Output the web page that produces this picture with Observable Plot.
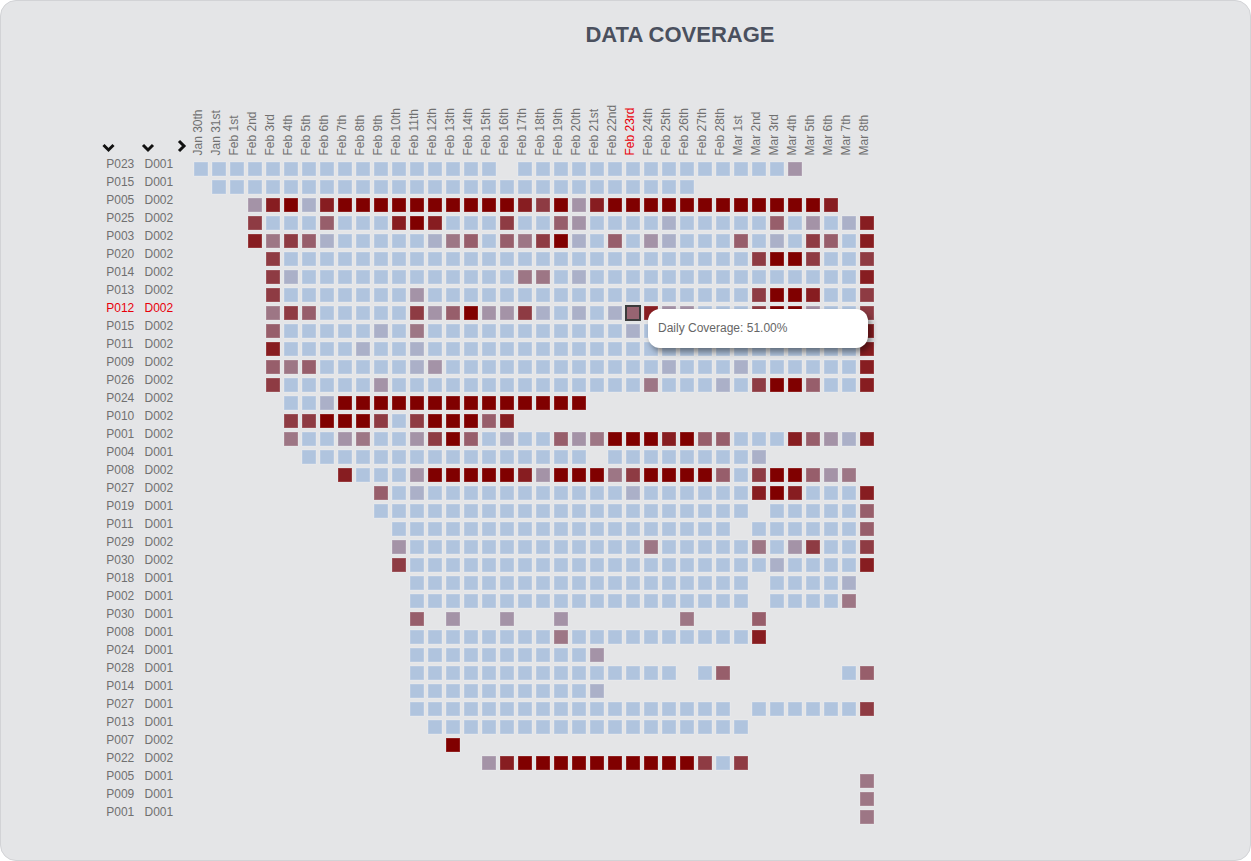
<!DOCTYPE html>
<html>
<head>
<meta charset="utf-8">
<script src="https://cdn.jsdelivr.net/npm/d3@7"></script>
<script src="https://cdn.jsdelivr.net/npm/@observablehq/plot@0.6"></script>
<style>
html, body { margin: 0; padding: 0; background: #ffffff; }
body { width: 1251px; height: 861px; overflow: hidden; position: relative; font-family: "Liberation Sans", Arial, sans-serif; }
#panel { position: absolute; left: 0; top: 0; width: 1249px; height: 859px; background: #e4e5e7; border: 1px solid #d2d3d6; border-radius: 16px; }
#title { position: absolute; left: 480px; width: 400px; top: 24px; text-align: center; font-size: 22px; line-height: 22px; font-weight: bold; color: #4a505e; letter-spacing: 0; }
#chart { position: absolute; left: 0; top: 0; }
#icons { position: absolute; left: 0; top: 0; }
#tooltip { position: absolute; width: 220px; height: 39px; background: #ffffff; border-radius: 12px; box-shadow: 3px 4px 6px rgba(0,0,0,0.45); font-size: 12px; line-height: 39px; color: #666666; padding-left: 10px; box-sizing: border-box; }
</style>
</head>
<body>
<div id="panel"></div>
<div id="title">DATA COVERAGE</div>
<div id="chart"></div>
<svg id="icons" width="1251" height="861">
  <g fill="none" stroke="#111" stroke-width="3" stroke-linecap="butt" stroke-linejoin="miter">
    <polyline points="103.5,145 108.5,150 113.5,145"></polyline>
    <polyline points="143,145 148,150 153,145"></polyline>
    <polyline points="179,141 184,146 179,151"></polyline>
  </g>
</svg>
<div id="tooltip"></div>
<script>
// ---- data ----
const dates = ["Jan 30th","Jan 31st","Feb 1st","Feb 2nd","Feb 3rd","Feb 4th","Feb 5th","Feb 6th","Feb 7th","Feb 8th","Feb 9th","Feb 10th","Feb 11th","Feb 12th","Feb 13th","Feb 14th","Feb 15th","Feb 16th","Feb 17th","Feb 18th","Feb 19th","Feb 20th","Feb 21st","Feb 22nd","Feb 23rd","Feb 24th","Feb 25th","Feb 26th","Feb 27th","Feb 28th","Mar 1st","Mar 2nd","Mar 3rd","Mar 4th","Mar 5th","Mar 6th","Mar 7th","Mar 8th"];

const patients = ["P023","P015","P005","P025","P003","P020","P014","P013","P012","P015","P011","P009","P026","P024","P010","P001","P004","P008","P027","P019","P011","P029","P030","P018","P002","P030","P008","P024","P028","P014","P027","P013","P007","P022","P005","P009","P001"];

const devices = ["D001","D001","D002","D002","D002","D002","D002","D002","D002","D002","D002","D002","D002","D002","D002","D002","D001","D002","D002","D001","D001","D002","D002","D001","D001","D001","D001","D001","D001","D001","D001","D001","D002","D002","D001","D001","D001"];

// coverage level per day (one char per date column, spaces only for readability)
// '.' = no data, 'b' = full coverage, '0'..'6' = coverage levels (see levelValues)
const coverageRows = [
  "bbbbbbbbbb bbbbbbb.bb bbbbbbbbbb bbb5....",
  ".bbbbbbbbb bbbbbbbbbb bbbbbbbb.. ........",
  "...5106100 0000000012 0510000000 000001..",
  "...2bbb3bb b101bbb2bb 35bbbb6bbb bb3b5b61",
  "...14236bb bbb643b342 06b3b56bbb 3b6b23b1",
  "....2bbbbb bbbbbbbbbb bbbbbbbbbb b2002bb2",
  "....26bbbb bbbbbbbb44 b6bbbbbbbb bbbbbbb1",
  "....2bbbbb bb5bbbbbbb bbbbbbbbbb b2001bb2",
  "....423bbb bb25305526 b6b63155bb b2005bb2",
  "....3bbbbb 6b4bbbbbbb bbbb6bbbbb bbbbbbb1",
  "....1bbbb6 bb6bbbbbbb bbbbbbbbbb bbbbbbb1",
  "....343bbb bb65bbbbbb bbbbbb6bbb 6bbbbbb1",
  "....2bbbbb 5bbbbbbbbb bbbbb4bbb6 b2003bb1",
  ".....bb600 0000000000 00........ ........",
  ".....22000 2b200031.. .......... ........",
  ".....4bb54 bb5203b6bb 3540001033 bbb13561",
  "......bbbb bbbbbbbbbb bb.bbbbbbb b6......",
  "........1b bb50000015 0004200003 b200354.",
  ".......... 3b6bbbbbbb bbbb6bbbbb b101bbb1",
  ".......... bbbbbbbbbb bbbbbbbbbb b.bbbbb3",
  ".......... .bbbbbbbbb bbbbbbbbbb .bbbbbb3",
  ".......... .5bbbbbbbb bbbbb4bbbb b4b52bb2",
  ".......... .2bbbbbbbb bbbbbbbbbb bb6bbbb1",
  ".......... ..bbbbbbbb bbbbbbbbbb b.bbbb6.",
  ".......... ..bbbbbbbb bbbbbbbbbb b.bbbb4.",
  ".......... ..3.5..5.. 5......4.. .3......",
  ".......... ..bbbbbbbb 4bbbbbbbbb b1......",
  ".......... ..bbbbbbbb bb5....... ........",
  ".......... ..bbbbbbbb bbbbbbb.b3 ......b3",
  ".......... ..bbbbbbbb bb6....... ........",
  ".......... ..bbbbbbbb bbbbbbbbbb .bbbbbb2",
  ".......... ...bbbbbbb bbbbbbbbbb b.......",
  ".......... ....0..... .......... ........",
  ".......... ......5100 000000002b 2.......",
  ".......... .......... .......... .......4",
  ".......... .......... .......... .......4",
  ".......... .......... .......... .......4"
];

const levelValues = {"0": 0, "1": 0.15, "2": 0.3, "3": 0.48, "4": 0.6, "5": 0.75, "6": 0.9, "b": 1};

const hoverRowIndex = 8;
const hoverDate = "Feb 23rd";
const hoverValue = 0.51;

// ---- build table ----
const rowKeys = patients.map((p, i) => p + " " + devices[i] + "#" + i);
const cells = [];
coverageRows.forEach((s, r) => {
  const chars = s.replace(/ /g, "");
  if (chars.length !== dates.length) console.warn("row", r, "length", chars.length);
  for (let c = 0; c < dates.length; c++) {
    const ch = chars[c];
    if (ch === "." || ch === undefined) continue;
    let v = levelValues[ch];
    if (r === hoverRowIndex && dates[c] === hoverDate) v = hoverValue;
    cells.push({row: rowKeys[r], date: dates[c], value: v});
  }
});
const hoverCell = cells.find(d => d.row === rowKeys[hoverRowIndex] && d.date === hoverDate);

const gray = "#707070";
const red = "#e8000a";

const plot = Plot.plot({
  width: 1251,
  height: 861,
  marginLeft: 192,
  marginRight: 375,
  marginTop: 159.5,
  marginBottom: 35.5,
  style: {background: "transparent", fontFamily: "'Liberation Sans', Arial, sans-serif", fontSize: "12px", overflow: "visible"},
  x: {type: "band", domain: dates, padding: 0, axis: null},
  y: {type: "band", domain: rowKeys, padding: 0, axis: null},
  color: {type: "linear", domain: [0, 1], range: ["#800000", "#b0c4de"], interpolate: "rgb"},
  marks: [
    Plot.cell(cells, {x: "date", y: "row", fill: "value", inset: 2, stroke: "#ffffff", strokeOpacity: 0.25, strokeWidth: 1}),
    Plot.cell([hoverCell], {x: "date", y: "row", inset: 2, fill: "none", stroke: "#3c3c3c", strokeWidth: 2}),
    Plot.text(dates, {x: d => d, frameAnchor: "top", rotate: -90, textAnchor: "start", lineAnchor: "bottom", dy: -4.5, dx: 0.5, fontSize: 12, fill: d => d === hoverDate ? red : gray}),
    Plot.text(rowKeys, {y: d => d, frameAnchor: "left", text: (d, i) => patients[i], textAnchor: "start", lineAnchor: "bottom", dx: -86.3, dy: -1.6, fontSize: 12, fill: (d, i) => i === hoverRowIndex ? red : gray}),
    Plot.text(rowKeys, {y: d => d, frameAnchor: "left", text: (d, i) => devices[i], textAnchor: "start", lineAnchor: "bottom", dx: -48, dy: -1.6, fontSize: 12, fill: (d, i) => i === hoverRowIndex ? red : gray})
  ]
});
document.getElementById("chart").appendChild(plot);

// tooltip anchored to the hovered cell through the scales
const xs = plot.scale("x"), ys = plot.scale("y");
const cx = xs.apply(hoverDate) + xs.bandwidth / 2;
const cy = ys.apply(rowKeys[hoverRowIndex]) + ys.bandwidth / 2;
const tip = document.getElementById("tooltip");
tip.textContent = "Daily Coverage: " + (hoverValue * 100).toFixed(2) + "%";
tip.style.left = (cx + 15) + "px";
tip.style.top = (cy - 4) + "px";
</script>
</body>
</html>
